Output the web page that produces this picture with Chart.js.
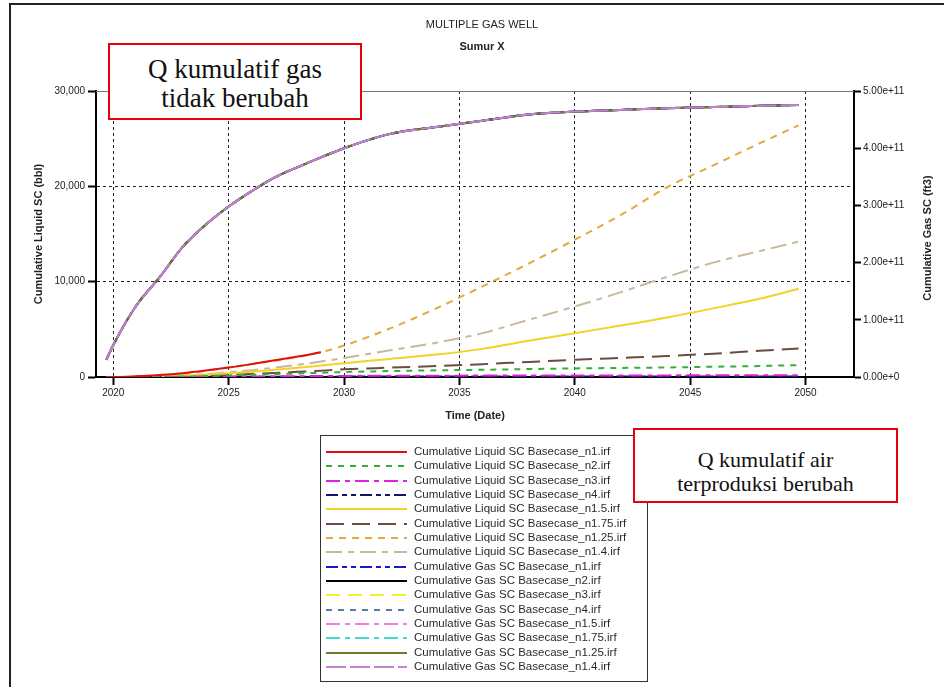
<!DOCTYPE html>
<html>
<head>
<meta charset="utf-8">
<script src="https://cdn.jsdelivr.net/npm/chart.js@4"></script>
<style>
  body { margin: 0; background: #fff; }
  #wrap { position: relative; width: 944px; height: 687px; overflow: hidden; }
  #frame { position: absolute; left: 9px; top: 3px; width: 1000px; height: 800px;
           border-left: 2px solid #222; border-top: 2px solid #222; }
  #myChart { position: absolute; left: 0; top: 0; }
  .note { position: absolute; box-sizing: border-box; border: 2px solid #e8000b; background: #fff;
          font-family: "Liberation Serif", "Times New Roman", serif; color: #111; text-align: center; }
</style>
</head>
<body>
<div id="wrap">
  <div id="frame"></div>
  <canvas id="myChart" width="944" height="687"></canvas>
  <div class="note" style="left:108px; top:43px; width:254px; height:77px; font-size:27px; line-height:29px; padding-top:10px;">Q kumulatif gas<br>tidak berubah</div>
  <div class="note" style="left:633px; top:428px; width:265px; height:75px; font-size:22px; line-height:24px; padding-top:18px;">Q kumulatif air<br>terproduksi berubah</div>
</div>
<script>
// time axis (years)
var years = [2019.7, 2020, 2021, 2022, 2023, 2024, 2025, 2026, 2027, 2028, 2029, 2030,
             2032, 2034, 2036, 2038, 2040, 2042, 2044, 2046, 2048, 2049.7];
var xTicks = [2020, 2025, 2030, 2035, 2040, 2045, 2050];
var liquidTicks = [0, 10000, 20000, 30000];
var gasTicks = [0, 1e11, 2e11, 3e11, 4e11, 5e11];

// cumulative liquid (bbl)
var liqN1   = [0, 0, 70, 200, 400, 680, 1000, 1350, 1750, 2150, 2600, null,
               null, null, null, null, null, null, null, null, null, null];
var liqN2   = [0, 0, 5, 20, 50, 100, 160, 230, 300, 370, 440, 520,
               620, 700, 760, 830, 900, 950, 1000, 1080, 1150, 1250];
var liqN3   = [0, 0, 2, 8, 15, 25, 40, 55, 70, 85, 100, 115,
               130, 140, 150, 155, 160, 165, 170, 175, 180, 185];
var liqN4   = [0, 0, 1, 3, 6, 10, 15, 20, 25, 30, 35, 40,
               45, 48, 50, 52, 54, 56, 58, 60, 62, 64];
var liqN15  = [0, 0, 20, 60, 130, 250, 400, 560, 750, 960, 1200, 1450,
               1900, 2350, 2950, 3800, 4600, 5400, 6250, 7200, 8200, 9250];
var liqN175 = [0, 0, 10, 40, 80, 140, 220, 320, 420, 540, 660, 800,
               980, 1150, 1350, 1580, 1800, 2000, 2200, 2450, 2750, 3000];
var liqN125 = [0, 0, 60, 180, 380, 650, 1000, 1350, 1700, 2100, 2600, 3300,
               5100, 7200, 9500, 11900, 14400, 17000, 19900, 22200, 24500, 26400];
var liqN14  = [0, 0, 30, 90, 180, 300, 500, 720, 980, 1280, 1620, 2000,
               2800, 3600, 4600, 6000, 7400, 8900, 10500, 12000, 13200, 14200];

// cumulative gas (ft3) - same for every case
var gasCum = [3.0e10, 5.6e10, 1.25e11, 1.74e11, 2.27e11, 2.66e11, 2.98e11, 3.25e11, 3.49e11, 3.67e11, 3.84e11, 4.00e11,
              4.25e11, 4.37e11, 4.48e11, 4.59e11, 4.64e11, 4.67e11, 4.70e11, 4.72e11, 4.74e11, 4.755e11];

function pts(vals) {
  return years.map(function (t, i) { return { x: t, y: vals[i] }; });
}

function series(label, vals, color, dash, axis, order) {
  return {
    label: label,
    data: pts(vals),
    borderColor: color,
    backgroundColor: color,
    borderWidth: 2,
    borderDash: dash,
    pointRadius: 0,
    fill: false,
    cubicInterpolationMode: 'monotone',
    yAxisID: axis,
    order: order || 0
  };
}

var boxLegend = {
  id: 'boxLegend',
  afterDraw: function (chart) {
    var ctx = chart.ctx;
    var area = chart.chartArea;
    ctx.save();
    // thin top frame of the plot
    ctx.strokeStyle = '#777';
    ctx.lineWidth = 1;
    ctx.beginPath();
    ctx.moveTo(area.left, area.top + 0.5);
    ctx.lineTo(area.right, area.top + 0.5);
    ctx.stroke();

    // right axis title, reading bottom to top
    ctx.save();
    ctx.translate(928, (area.top + area.bottom) / 2 + 4);
    ctx.rotate(-Math.PI / 2);
    ctx.font = 'bold 11px "Liberation Sans", Arial, sans-serif';
    ctx.fillStyle = '#222';
    ctx.textAlign = 'center';
    ctx.textBaseline = 'middle';
    ctx.fillText('Cumulative Gas SC (ft3)', 0, 0);
    ctx.restore();

    // legend box
    ctx.strokeStyle = '#333';
    ctx.lineWidth = 1;
    ctx.strokeRect(320.5, 435.5, 327, 246);
    ctx.font = '11.5px "Liberation Sans", Arial, sans-serif';
    ctx.textBaseline = 'middle';
    chart.data.datasets.forEach(function (ds, i) {
      var y = Math.round(452 + i * 14.33);
      ctx.strokeStyle = ds.borderColor;
      ctx.lineWidth = 2;
      ctx.setLineDash(ds.borderDash || []);
      ctx.beginPath();
      ctx.moveTo(326, y);
      ctx.lineTo(407, y);
      ctx.stroke();
      ctx.setLineDash([]);
      ctx.fillStyle = '#2a2a2a';
      ctx.fillText(ds.label, 414, y);
    });
    ctx.restore();
  }
};

var tickFont = { family: '"Liberation Sans", Arial, sans-serif', size: 10 };
var titleFont = { family: '"Liberation Sans", Arial, sans-serif', size: 11, weight: 'bold' };

var ctx = document.getElementById('myChart').getContext('2d');
var chart = new Chart(ctx, {
  type: 'line',
  data: {
    datasets: [
      series('Cumulative Liquid SC Basecase_n1.irf', liqN1, '#e01010', [], 'yLiq'),
      series('Cumulative Liquid SC Basecase_n2.irf', liqN2, '#33b03c', [6, 6], 'yLiq'),
      series('Cumulative Liquid SC Basecase_n3.irf', liqN3, '#e020e0', [14, 5, 5, 5], 'yLiq'),
      series('Cumulative Liquid SC Basecase_n4.irf', liqN4, '#141468', [12, 4, 5, 4, 5, 4], 'yLiq'),
      series('Cumulative Liquid SC Basecase_n1.5.irf', liqN15, '#f2d225', [], 'yLiq'),
      series('Cumulative Liquid SC Basecase_n1.75.irf', liqN175, '#6b4c3e', [18, 8], 'yLiq'),
      series('Cumulative Liquid SC Basecase_n1.25.irf', liqN125, '#e3a93c', [7, 6], 'yLiq'),
      series('Cumulative Liquid SC Basecase_n1.4.irf', liqN14, '#c9b99c', [16, 6, 6, 6], 'yLiq'),
      series('Cumulative Gas SC Basecase_n1.irf', gasCum, '#1818c8', [12, 4, 5, 4, 5, 4], 'yGas'),
      series('Cumulative Gas SC Basecase_n2.irf', gasCum, '#000000', [], 'yGas'),
      series('Cumulative Gas SC Basecase_n3.irf', gasCum, '#f2f22a', [14, 8], 'yGas'),
      series('Cumulative Gas SC Basecase_n4.irf', gasCum, '#5a78a8', [6, 6], 'yGas'),
      series('Cumulative Gas SC Basecase_n1.5.irf', gasCum, '#f07ee0', [14, 5, 5, 5], 'yGas'),
      series('Cumulative Gas SC Basecase_n1.75.irf', gasCum, '#44d8d0', [14, 5, 5, 5], 'yGas'),
      series('Cumulative Gas SC Basecase_n1.25.irf', gasCum, '#6b7d2a', [], 'yGas', -1),
      series('Cumulative Gas SC Basecase_n1.4.irf', gasCum, '#c482d4', [20, 4], 'yGas', -2)
    ]
  },
  options: {
    responsive: false,
    animation: false,
    layout: { padding: { left: 20, right: 0, top: 0, bottom: 260 } },
    plugins: {
      legend: { display: false },
      tooltip: { enabled: false },
      title: {
        display: true,
        text: 'MULTIPLE GAS WELL',
        color: '#222',
        font: { family: '"Liberation Sans", Arial, sans-serif', size: 11, weight: 'normal' },
        padding: { top: 18, bottom: 2 }
      },
      subtitle: {
        display: true,
        text: 'Sumur X',
        color: '#222',
        font: { family: '"Liberation Sans", Arial, sans-serif', size: 11, weight: 'bold' },
        padding: { top: 7, bottom: 37.6 }
      }
    },
    scales: {
      x: {
        type: 'linear',
        min: 2019.25,
        max: 2052.1,
        afterBuildTicks: function (s) { s.ticks = xTicks.map(function (v) { return { value: v }; }); },
        afterFit: function (s) { s.height = 50; },
        ticks: { font: tickFont, color: '#222', padding: 2, maxRotation: 0,
                 callback: function (v) { return String(v); } },
        grid: { color: '#222', lineWidth: 1, tickLength: 8, tickWidth: 2, tickColor: '#000' },
        border: { display: true, color: '#000', width: 2, dash: [3, 3] },
        title: { display: true, text: 'Time (Date)', color: '#222', font: titleFont, padding: { top: 0, bottom: 4 } }
      },
      yLiq: {
        type: 'linear',
        position: 'left',
        min: 0,
        max: 30000,
        afterBuildTicks: function (s) { s.ticks = liquidTicks.map(function (v) { return { value: v }; }); },
        afterFit: function (s) { s.width = 76; },
        ticks: { font: tickFont, color: '#222', padding: 3,
                 callback: function (v) { return v.toLocaleString('en-US'); } },
        grid: { color: '#222', lineWidth: 1, tickLength: 8, tickWidth: 2, tickColor: '#000' },
        border: { display: true, color: '#000', width: 2, dash: [3, 3] },
        title: { display: true, text: 'Cumulative Liquid SC (bbl)', color: '#222', font: titleFont, padding: { top: 12, bottom: 0 } }
      },
      yGas: {
        type: 'linear',
        position: 'right',
        min: 0,
        max: 5e11,
        afterBuildTicks: function (s) { s.ticks = gasTicks.map(function (v) { return { value: v }; }); },
        afterFit: function (s) { s.width = 90; },
        ticks: { font: tickFont, color: '#222', padding: 2,
                 callback: function (v) { return v.toExponential(2); } },
        grid: { drawOnChartArea: false, tickLength: 7, tickWidth: 2, tickColor: '#000' },
        border: { display: true, color: '#000', width: 2 },
        title: { display: false }
      }
    }
  },
  plugins: [boxLegend]
});
</script>
</body>
</html>
